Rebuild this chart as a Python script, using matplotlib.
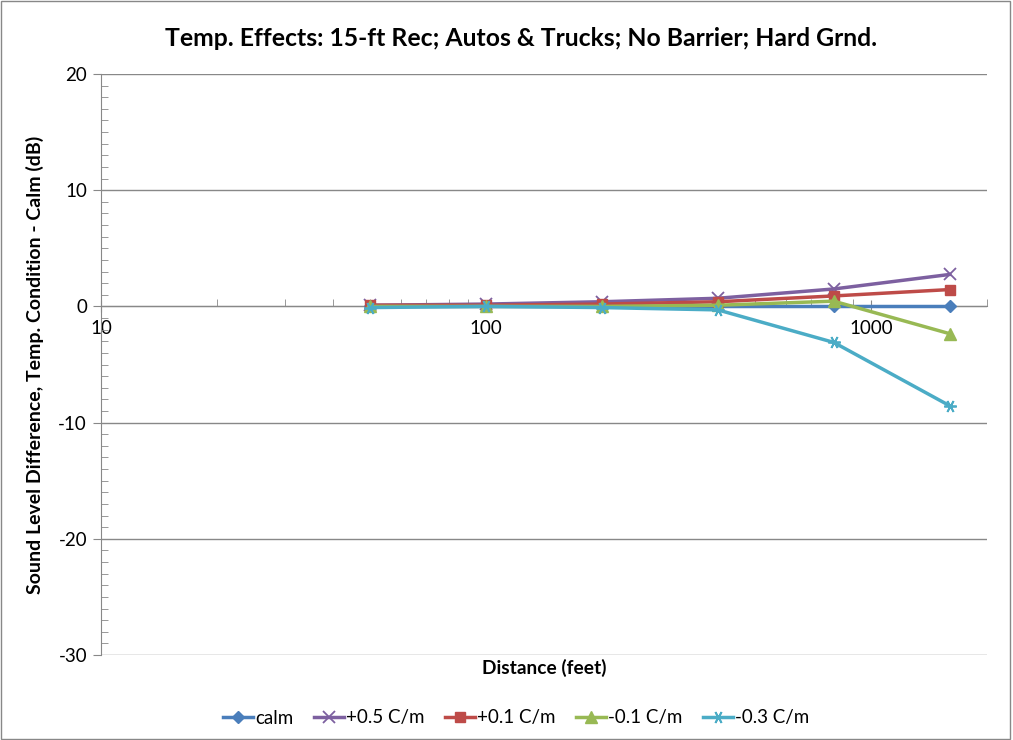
import matplotlib
matplotlib.use("Agg")
import matplotlib.pyplot as plt
from matplotlib.ticker import FixedLocator, NullFormatter, MultipleLocator, FuncFormatter

plt.rcParams['font.family'] = ['Lato', 'DejaVu Sans']
plt.rcParams['axes.unicode_minus'] = False

distance = [50, 100, 200, 400, 800, 1600]
series_names = ["calm", "+0.5 C/m", "+0.1 C/m", "-0.1 C/m", "-0.3 C/m"]
calm = [0.0, 0.0, 0.0, 0.0, 0.0, 0.0]
plus05 = [0.1, 0.2, 0.4, 0.7, 1.5, 2.75]
plus01 = [0.1, 0.1, 0.2, 0.4, 0.9, 1.45]
minus01 = [0.0, 0.0, 0.0, 0.1, 0.45, -2.35]
minus03 = [-0.1, 0.0, -0.1, -0.3, -3.1, -8.55]

colors = ["#4A7EBB", "#7D60A0", "#BE4B48", "#98B954", "#4BACC6"]
markers = ["D", "x", "s", "^", (6, 2, 30)]
msizes = [6, 8, 7, 8, 9]

fig = plt.figure(figsize=(10.13, 7.40), dpi=100)
ax = fig.add_axes([101/1013, 1-655/740, (987-101)/1013, (655-74)/740])

for vals, name, c, m, ms in zip([calm, plus05, plus01, minus01, minus03], series_names, colors, markers, msizes):
    ax.plot(distance, vals, color=c, marker=m, markersize=ms, linewidth=2.5,
            markeredgewidth=1.3 if m in ("x",) or isinstance(m, tuple) else 1,
            markeredgecolor=c, markerfacecolor=c, label=name, clip_on=False, zorder=3)

ax.set_xscale('log')
ax.set_xlim(10, 2000)
ax.set_ylim(-30, 20)

ax.yaxis.set_major_locator(MultipleLocator(10))
ax.yaxis.set_minor_locator(MultipleLocator(1))
ax.yaxis.set_major_formatter(FuncFormatter(lambda v, p: "%d" % round(v)))
ax.grid(axis='y', which='major', color='#888888', linewidth=1)
ax.set_axisbelow(True)

for s in ['top', 'right']:
    ax.spines[s].set_visible(False)
ax.spines['left'].set_color('#888888')
ax.spines['bottom'].set_position(('data', 0))
ax.spines['bottom'].set_color('#888888')

ax.xaxis.set_major_locator(FixedLocator([10, 100, 1000]))
ax.xaxis.set_minor_locator(FixedLocator([20, 30, 40, 50, 60, 70, 80, 90, 200, 300, 400, 500, 600, 700, 800, 900, 2000]))
ax.xaxis.set_minor_formatter(NullFormatter())
ax.set_xticklabels(["10", "100", "1000"])

ax.tick_params(axis='x', which='major', direction='inout', length=8, color='#888888', labelsize=13.5, pad=6)
ax.tick_params(axis='x', which='minor', direction='in', length=5, color='#888888')
ax.tick_params(axis='y', which='major', direction='out', length=6, color='#888888', labelsize=13.5, pad=4)
ax.tick_params(axis='y', which='minor', direction='in', length=5, color='#888888')

ax.set_ylabel("Sound Level Difference, Temp. Condition - Calm (dB)", fontsize=14, fontweight='bold', labelpad=10)
fig.text(544/1013, 1-668/740, "Distance (feet)", ha='center', va='center', fontsize=13.8, fontweight='bold')
fig.text(521/1013, 1-38/740, "Temp. Effects: 15-ft Rec; Autos & Trucks; No Barrier; Hard Grnd.",
         ha='center', va='center', fontsize=17.8, fontweight='bold')

leg = fig.legend(loc='center', bbox_to_anchor=(516/1013, 1-718/740), ncol=5, frameon=False,
                 fontsize=13.5, handlelength=1.6, handletextpad=0.1, columnspacing=1.1)

fig.patches.append(plt.Rectangle((0.001, 0.001), 0.996, 0.997, transform=fig.transFigure,
                                 fill=False, edgecolor='#888888', linewidth=1))

fig.savefig("out.png", dpi=100)
